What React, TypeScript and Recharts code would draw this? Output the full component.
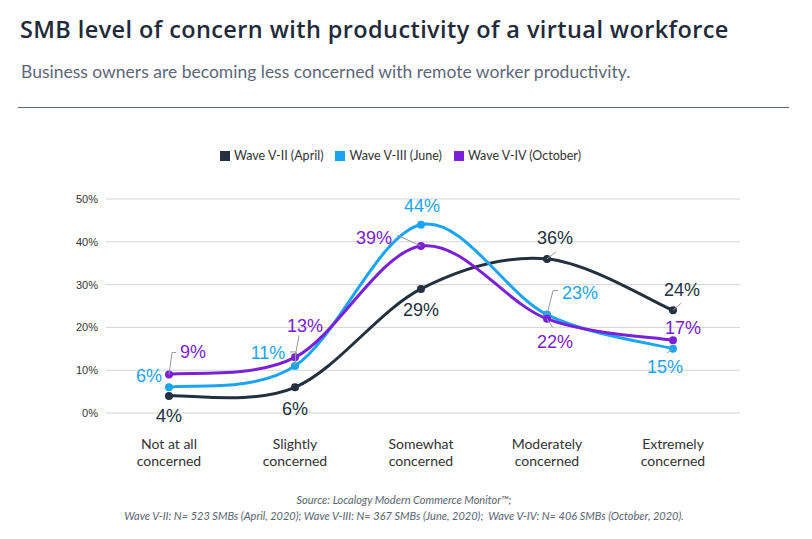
import React from 'react';
import { LineChart, Line, XAxis, YAxis, CartesianGrid, LabelList } from 'recharts';

const categories = [
  'Not at all concerned',
  'Slightly concerned',
  'Somewhat concerned',
  'Moderately concerned',
  'Extremely concerned',
];
const categoryLines: string[][] = [
  ['Not at all', 'concerned'],
  ['Slightly', 'concerned'],
  ['Somewhat', 'concerned'],
  ['Moderately', 'concerned'],
  ['Extremely', 'concerned'],
];
const waveApril = [4, 6, 29, 36, 24];
const waveJune = [6, 11, 44, 23, 15];
const waveOctober = [9, 13, 39, 22, 17];
const yTicks = [0, 10, 20, 30, 40, 50];

const series = [
  { key: 'april', name: 'Wave V-II (April)', color: '#233040' },
  { key: 'june', name: 'Wave V-III (June)', color: '#1ca4f4' },
  { key: 'october', name: 'Wave V-IV (October)', color: '#7a20d6' },
];

const data = categories.map((c, i) => ({
  category: c,
  april: waveApril[i],
  june: waveJune[i],
  october: waveOctober[i],
}));

type Place = { dx: number; dy: number; leader?: number[][] };
const labelLayout: Record<string, Place[]> = {
  april: [
    { dx: 0, dy: 20 },
    { dx: 0, dy: 21 },
    { dx: 0, dy: 21 },
    { dx: 8, dy: -21, leader: [[0, 0], [9, -7]] },
    { dx: 9, dy: -21, leader: [[0, 0], [8, -7]] },
  ],
  june: [
    { dx: -20, dy: -12 },
    { dx: -27, dy: -13, leader: [[0, 0], [1, -14], [-5, -14]] },
    { dx: 1, dy: -19 },
    { dx: 33, dy: -22, leader: [[0, 0], [6, -24], [11, -24]] },
    { dx: -8, dy: 18, leader: [[0, 0], [-6, 4]] },
  ],
  october: [
    { dx: 24, dy: -23, leader: [[0, 0], [3, -22], [7, -22]] },
    { dx: 10, dy: -32, leader: [[0, 0], [4, -22]] },
    { dx: -47, dy: -9, leader: [[0, 0], [-24, -11]] },
    { dx: 8, dy: 23, leader: [[0, 0], [6, 9]] },
    { dx: 10, dy: -13 },
  ],
};

// Excel-like smoothed line (Catmull-Rom through the points)
const smoothCurve = (context: any) => {
  let pts: number[][] = [];
  return {
    areaStart() {},
    areaEnd() {},
    lineStart() {
      pts = [];
    },
    lineEnd() {
      const n = pts.length;
      if (!n) return;
      context.moveTo(pts[0][0], pts[0][1]);
      for (let i = 0; i < n - 1; i++) {
        const p0 = pts[i - 1] || pts[i];
        const p1 = pts[i];
        const p2 = pts[i + 1];
        const p3 = pts[i + 2] || pts[i + 1];
        context.bezierCurveTo(
          p1[0] + (p2[0] - p0[0]) / 6,
          p1[1] + (p2[1] - p0[1]) / 6,
          p2[0] - (p3[0] - p1[0]) / 6,
          p2[1] - (p3[1] - p1[1]) / 6,
          p2[0],
          p2[1]
        );
      }
    },
    point(x: number, y: number) {
      pts.push([+x, +y]);
    },
  };
};

const makeLabel = (key: string, color: string) => (props: any) => {
  const x = props.x ?? props.viewBox?.x;
  const y = props.y ?? props.viewBox?.y;
  const index = props.index ?? 0;
  const place = labelLayout[key][index] || { dx: 0, dy: -20 };
  return (
    <g key={`${key}-lbl-${index}`}>
      {place.leader && (
        <polyline
          points={place.leader.map((p) => `${x + p[0]},${y + p[1]}`).join(' ')}
          fill="none"
          stroke="#9a9a9a"
          strokeWidth={1}
        />
      )}
      <text
        x={x + place.dx}
        y={y + place.dy + 6.5}
        textAnchor="middle"
        fill={color}
        fontSize={18}
        fontFamily="'Liberation Sans', Arial, sans-serif"
      >
        {`${props.value}%`}
      </text>
    </g>
  );
};

const XTick = (props: any) => {
  const { x, y, index } = props;
  const lines = categoryLines[index] || [String(props.payload?.value)];
  return (
    <text
      x={x}
      y={y}
      textAnchor="middle"
      fill="#333"
      fontSize={14}
      fontFamily="Lato, sans-serif"
    >
      {lines.map((l, i) => (
        <tspan key={i} x={x} y={y + 28 + i * 17}>
          {l}
        </tspan>
      ))}
    </text>
  );
};

export default function App() {
  return (
    <div
      style={{
        position: 'absolute',
        left: 0,
        top: 0,
        width: 812,
        height: 539,
        background: '#fff',
        fontFamily: 'Lato, sans-serif',
        overflow: 'hidden',
      }}
    >
      <div
        style={{
          position: 'absolute',
          left: 20,
          top: 18.4,
          fontSize: 23.5,
          lineHeight: '23.5px',
          letterSpacing: 0.4,
          fontWeight: 600,
          fontFamily: "'Open Sans', sans-serif",
          color: '#1f2a3a',
          whiteSpace: 'nowrap',
        }}
      >
        SMB level of concern with productivity of a virtual workforce
      </div>
      <div
        style={{
          position: 'absolute',
          left: 21,
          top: 62.8,
          fontSize: 17.5,
          lineHeight: '17.5px',
          color: '#5d6778',
          whiteSpace: 'nowrap',
        }}
      >
        Business owners are becoming less concerned with remote worker productivity.
      </div>
      <div
        style={{
          position: 'absolute',
          left: 18,
          top: 106.5,
          width: 771,
          height: 1.5,
          background: '#5f6673',
        }}
      />
      <div
        style={{
          position: 'absolute',
          left: 0,
          top: 148,
          width: 801,
          display: 'flex',
          justifyContent: 'center',
          alignItems: 'center',
          fontSize: 12.5,
          color: '#333',
          lineHeight: '16px',
        }}
      >
        {series.map((s) => (
          <div key={s.key} style={{ display: 'flex', alignItems: 'center', margin: '0 6px' }}>
            <span style={{ width: 10, height: 10, background: s.color, display: 'inline-block', marginRight: 4 }} />
            <span>{s.name}</span>
          </div>
        ))}
      </div>
      <div style={{ position: 'absolute', left: 0, top: 0 }}>
        <LineChart
          width={812}
          height={480}
          data={data}
          margin={{ top: 199, right: 72, bottom: 17, left: 46 }}
        >
          <CartesianGrid vertical={false} stroke="#d4d4d4" strokeWidth={1} />
          <XAxis
            dataKey="category"
            axisLine={false}
            tickLine={false}
            interval={0}
            height={50}
            padding={{ left: 63, right: 67 }}
            tick={<XTick />}
          />
          <YAxis
            domain={[0, 50]}
            ticks={yTicks}
            width={60}
            axisLine={false}
            tickLine={false}
            tickFormatter={(v: number) => `${v}%`}
            tick={{ fontSize: 11, fill: '#333', fontFamily: "'Liberation Sans', Arial, sans-serif" }}
          />
          {series.map((s) => (
            <Line
              key={s.key}
              dataKey={s.key}
              name={s.name}
              type={smoothCurve as any}
              stroke={s.color}
              strokeWidth={3}
              dot={{ r: 4, fill: s.color, stroke: s.color, strokeWidth: 0 }}
              activeDot={false}
              isAnimationActive={false}
            >
              <LabelList dataKey={s.key} content={makeLabel(s.key, s.color)} />
            </Line>
          ))}
        </LineChart>
      </div>
      <div
        style={{
          position: 'absolute',
          left: 0,
          top: 492,
          width: 808,
          textAlign: 'center',
          fontSize: 11,
          lineHeight: '16px',
          fontStyle: 'italic',
          color: '#5a6472',
        }}
      >
        <div>Source: Localogy Modern Commerce Monitor™;</div>
        <div>
          Wave V-II: N= 523 SMBs (April, 2020); Wave V-III: N= 367 SMBs (June, 2020);&nbsp; Wave V-IV: N= 406 SMBs (October, 2020).
        </div>
      </div>
    </div>
  );
}
